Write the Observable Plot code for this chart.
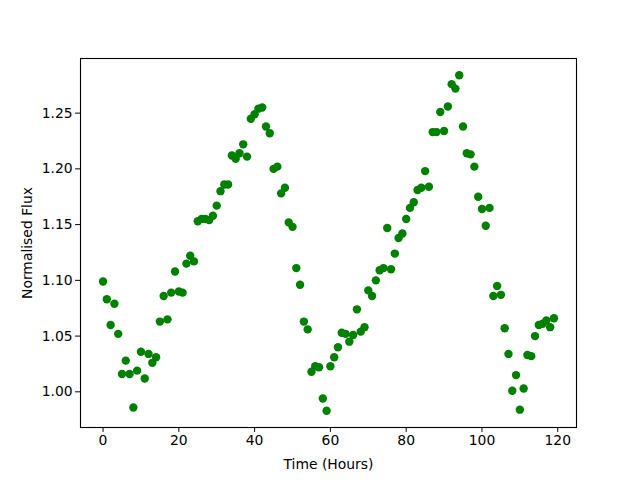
<!DOCTYPE html>
<html><head><meta charset="utf-8">
<script src="https://cdn.jsdelivr.net/npm/d3@7"></script>
<script src="https://cdn.jsdelivr.net/npm/@observablehq/plot@0.6"></script>
<style>body{margin:0;background:#fff}</style>
</head><body><div id="chart"></div>
<script>
const hours = d3.range(0, 120);
const flux = [1.099,1.083,1.060,1.079,1.052,1.016,1.028,1.016,0.986,1.019,
1.036,1.012,1.034,1.026,1.031,1.063,1.086,1.065,1.089,1.108,
1.090,1.089,1.115,1.122,1.117,1.153,1.155,1.155,1.154,1.158,
1.167,1.180,1.186,1.186,1.212,1.209,1.214,1.222,1.211,1.245,
1.249,1.254,1.255,1.238,1.232,1.200,1.202,1.178,1.183,1.152,
1.148,1.111,1.096,1.063,1.056,1.018,1.023,1.022,0.994,0.983,
1.023,1.031,1.040,1.053,1.052,1.045,1.051,1.074,1.054,1.058,
1.091,1.086,1.100,1.109,1.111,1.147,1.110,1.124,1.138,1.142,
1.155,1.165,1.170,1.181,1.183,1.198,1.184,1.233,1.233,1.251,
1.234,1.256,1.276,1.272,1.284,1.238,1.214,1.213,1.202,1.175,
1.164,1.149,1.165,1.086,1.095,1.087,1.057,1.034,1.001,1.015,
0.984,1.003,1.033,1.032,1.050,1.060,1.061,1.064,1.058,1.066];
const xTicks = [0,20,40,60,80,100,120];
const yTicks = [1.00,1.05,1.10,1.15,1.20,1.25];
const data = hours.map((h,i)=>({h, f: flux[i]}));

const chart = Plot.plot({
  width: 640, height: 480,
  marginLeft: 80, marginRight: 64, marginTop: 58, marginBottom: 53,
  style: {fontFamily: "DejaVu Sans", fontSize: "13.9px", color: "#000", background: "#fff"},
  x: {domain: [-5.95, 124.95]},
  y: {domain: [0.968, 1.299]},
  marks: [
    Plot.dot(data, {x: "h", y: "f", r: 4.2, fill: "#008000", stroke: "none"}),
    Plot.frame({stroke: "#000", strokeWidth: 1.1}),
    Plot.axisX({ticks: xTicks, tickSize: 4.9, tickPadding: 3, label: "Time (Hours)", labelAnchor: "center", labelArrow: "none", labelOffset: 41}),
    Plot.axisY({ticks: yTicks, tickSize: 4.9, tickPadding: 3, tickFormat: d3.format(".2f"), label: "Normalised Flux", labelAnchor: "center", labelArrow: "none", labelOffset: 58})
  ]
});
document.getElementById("chart").appendChild(chart);
</script></body></html>
